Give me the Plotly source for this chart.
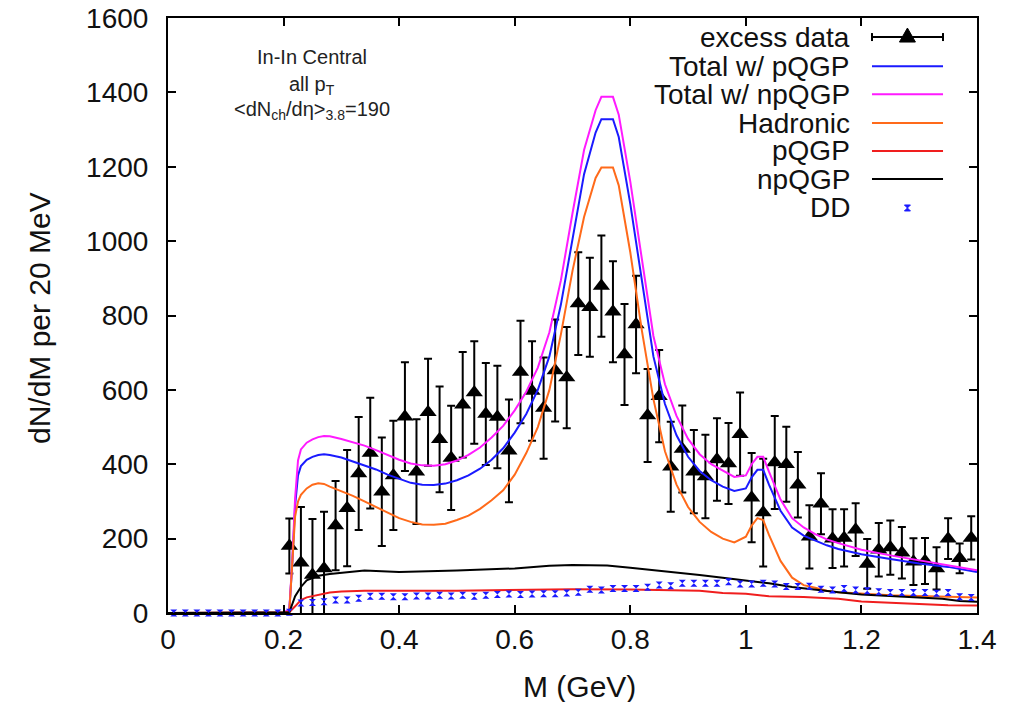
import plotly.graph_objects as go

# ---------------- data ----------------
mass_data = [0.21, 0.23, 0.25, 0.27, 0.29, 0.31, 0.33, 0.35, 0.37, 0.39,
             0.41, 0.43, 0.45, 0.47, 0.49, 0.51, 0.53, 0.55, 0.57, 0.59,
             0.61, 0.63, 0.65, 0.67, 0.69, 0.71, 0.73, 0.75, 0.77, 0.79,
             0.81, 0.83, 0.85, 0.87, 0.89, 0.91, 0.93, 0.95, 0.97, 0.99,
             1.01, 1.03, 1.05, 1.07, 1.09, 1.11, 1.13, 1.15, 1.17, 1.19,
             1.21, 1.23, 1.25, 1.27, 1.29, 1.31, 1.33, 1.35, 1.37, 1.39]
excess = [180, 135, 102, 120, 235, 282, 375, 430, 326, 370,
          528, 380, 540, 467, 417, 560, 593, 535, 527, 436,
          648, 597, 551, 652, 633, 832, 822, 879, 810, 695,
          776, 531, 583, 393, 441, 380, 367, 413, 402, 481,
          310, 270, 405, 400, 345, 205, 294, 200, 202, 224,
          132, 170, 176, 162, 138, 140, 120, 200, 147, 202]
excess_err = [74, 150, 151, 152, 120, 156, 152, 149, 146, 147,
              146, 141, 144, 142, 140, 142, 138, 137, 138, 138,
              138, 134, 136, 137, 136, 138, 133, 136, 136, 136,
              131, 125, 124, 121, 117, 112, 112, 111, 109, 112,
              120, 145, 125, 101, 88, 85, 82, 79, 77, 71,
              67, 72, 73, 69, 63, 62, 57, 55, 40, 58]

mass_curve = [0.0, 0.2, 0.21, 0.215, 0.22, 0.225, 0.23, 0.24, 0.25, 0.26, 0.27, 0.28,
              0.30, 0.32, 0.34, 0.36, 0.38, 0.40, 0.42, 0.44, 0.46, 0.48,
              0.50, 0.52, 0.54, 0.56, 0.58, 0.60, 0.62, 0.64, 0.66, 0.68,
              0.70, 0.72, 0.74, 0.75, 0.77, 0.78,
              0.80, 0.82, 0.84, 0.86, 0.88, 0.90, 0.92, 0.94, 0.96, 0.98, 1.00,
              1.01, 1.02, 1.03, 1.04,
              1.06, 1.08, 1.10, 1.12, 1.14, 1.16,
              1.20, 1.25, 1.30, 1.35, 1.40]
hadronic = [0, 0, 5, 120, 260, 300, 318, 335, 345, 349, 347, 340,
            328, 315, 300, 285, 268, 255, 245, 238, 237, 240,
            250, 262, 280, 303, 330, 372, 430, 500, 600, 750,
            920, 1065, 1170, 1198, 1198, 1150,
            970, 760, 575, 435, 345, 285, 245, 218, 200, 190, 205,
            235, 255, 250, 210,
            140, 95, 75, 68, 60, 56,
            52, 48, 46, 44, 42]
total_pqgp = [0, 0, 10, 130, 290, 370, 395, 412, 420, 425, 427, 425,
              418, 408, 398, 386, 372, 360, 350, 345, 344, 348,
              357, 370, 388, 412, 443, 485, 535, 600, 690, 830,
              1010, 1180, 1292, 1328, 1328, 1280,
              1100, 890, 690, 562, 478, 420, 382, 357, 340, 328, 335,
              365, 385, 385, 345,
              275, 230, 208, 195, 182, 172,
              158, 145, 133, 124, 110]
total_npqgp = [0, 0, 10, 140, 310, 410, 440, 458, 467, 473, 476, 475,
               468, 460, 450, 438, 424, 412, 402, 397, 396, 400,
               410, 425, 445, 472, 503, 545, 595, 660, 755, 895,
               1075, 1245, 1352, 1388, 1388, 1340,
               1160, 950, 745, 615, 530, 468, 427, 400, 382, 366, 370,
               400, 420, 420, 380,
               305, 255, 230, 212, 198, 188,
               170, 155, 142, 130, 115]

mass_np = [0.0, 0.2, 0.21, 0.22, 0.23, 0.24, 0.25, 0.26, 0.28, 0.30, 0.34,
           0.40, 0.46, 0.50, 0.60, 0.66, 0.70, 0.76, 0.80, 0.84, 0.88,
           0.92, 0.96, 1.00, 1.04, 1.08, 1.12, 1.16, 1.20, 1.25, 1.30,
           1.34, 1.37, 1.40]
npqgp = [0, 0, 2, 45, 70, 88, 95, 100, 105, 108, 114,
         110, 112, 114, 120, 127, 129, 128, 122, 116, 108,
         102, 95, 88, 80, 70, 62, 56, 50, 46, 43,
         38, 32, 30]

mass_p = [0.0, 0.2, 0.21, 0.22, 0.23, 0.24, 0.26, 0.28, 0.30, 0.34, 0.50,
          0.68, 0.70, 0.80, 0.86, 0.92, 0.96, 1.00, 1.04, 1.10, 1.16,
          1.20, 1.24, 1.30, 1.35, 1.40]
pqgp = [0, 0, 2, 18, 35, 42, 48, 55, 58, 60, 60,
        62, 64, 63, 62, 60, 54, 52, 45, 43, 38,
        31, 28, 24, 21, 20]

mass_dd = [0.01, 0.03, 0.05, 0.07, 0.09, 0.11, 0.13, 0.15, 0.17, 0.19,
           0.21, 0.23, 0.25, 0.27, 0.29, 0.31, 0.33, 0.35, 0.37, 0.39,
           0.41, 0.43, 0.45, 0.47, 0.49, 0.51, 0.53, 0.55, 0.57, 0.59,
           0.61, 0.63, 0.65, 0.67, 0.69, 0.71, 0.73, 0.75, 0.77, 0.79,
           0.81, 0.83, 0.85, 0.87, 0.89, 0.91, 0.93, 0.95, 0.97, 0.99,
           1.01, 1.03, 1.05, 1.07, 1.09, 1.11, 1.13, 1.15, 1.17, 1.19,
           1.21, 1.23, 1.25, 1.27, 1.29, 1.31, 1.33, 1.35, 1.37, 1.39]
dd = [0, 0, 0, 0, 0, 0, 0, 0, 0, 0,
      2, 27, 28, 30, 35, 35, 40, 45, 45, 44,
      44, 46, 46, 48, 46, 48, 45, 48, 50, 51,
      50, 51, 52, 52, 54, 56, 64, 62, 66, 66,
      66, 69, 75, 73, 80, 80, 80, 80, 84, 78,
      78, 80, 78, 71, 71, 72, 64, 62, 66, 62,
      60, 57, 55, 55, 55, 55, 53, 55, 44, 42]

x_ticks = [0, 0.2, 0.4, 0.6, 0.8, 1.0, 1.2, 1.4]
x_tick_text = ["0", "0.2", "0.4", "0.6", "0.8", "1", "1.2", "1.4"]
y_ticks = [0, 200, 400, 600, 800, 1000, 1200, 1400, 1600]

legend_labels = ["excess data", "Total w/ pQGP", "Total w/ npQGP", "Hadronic",
                 "pQGP", "npQGP", "DD"]

# ---------------- styling ----------------
FONT = "Liberation Sans, Arial, Helvetica, sans-serif"
C_BLUE = "#1a1aff"
C_MAG = "#ff1aff"
C_ORANGE = "#ff6a1a"
C_RED = "#f01e1e"
C_BLACK = "#000000"
C_DD = "#1a1aff"

fig = go.Figure()

fig.add_trace(go.Scatter(
    x=mass_data, y=excess, mode="markers", name="excess data",
    marker=dict(symbol="triangle-up", size=15, color="black"),
    error_y=dict(type="data", array=excess_err, visible=True,
                 color="black", thickness=2, width=4),
    cliponaxis=True))

for xs, ys, col, nm in [(mass_curve, total_pqgp, C_BLUE, "Total w/ pQGP"),
                        (mass_curve, total_npqgp, C_MAG, "Total w/ npQGP"),
                        (mass_curve, hadronic, C_ORANGE, "Hadronic"),
                        (mass_p, pqgp, C_RED, "pQGP"),
                        (mass_np, npqgp, C_BLACK, "npQGP")]:
    fig.add_trace(go.Scatter(x=xs, y=ys, mode="lines", name=nm,
                             line=dict(color=col, width=2)))

fig.add_trace(go.Scatter(
    x=mass_dd, y=dd, mode="markers", name="DD",
    marker=dict(symbol="hourglass", size=7, color=C_DD, line=dict(width=0)),
    cliponaxis=False))

# ---------------- legend (right-aligned text, samples on the right) -------
row_y = [0.968, 0.919, 0.872, 0.8235, 0.7765, 0.7294, 0.6807]
row_colors = [C_BLACK, C_BLUE, C_MAG, C_ORANGE, C_RED, C_BLACK, None]
text_x = 0.8455
line_x0, line_x1, mid_x = 0.8702, 0.958, 0.914

annotations = []
shapes = []
for lab, yy, col in zip(legend_labels, row_y, row_colors):
    annotations.append(dict(text=lab, x=text_x, y=yy, xref="paper", yref="paper",
                            xanchor="right", yanchor="middle", showarrow=False,
                            font=dict(size=28, color="#111", family=FONT)))
    if col is not None:
        shapes.append(dict(type="line", xref="paper", yref="paper",
                           x0=line_x0, x1=line_x1, y0=yy, y1=yy,
                           line=dict(color=col, width=2)))
# caps and triangle for the "excess data" sample
for cx in (line_x0, line_x1):
    shapes.append(dict(type="line", xref="paper", yref="paper",
                       ysizemode="pixel", yanchor=row_y[0], y0=-4, y1=4,
                       x0=cx, x1=cx, line=dict(color="black", width=2)))
shapes.append(dict(type="path", xref="paper", yref="paper",
                   xsizemode="pixel", ysizemode="pixel",
                   xanchor=mid_x, yanchor=row_y[0],
                   path="M -8,-5 L 8,-5 L 0,9 Z",
                   fillcolor="black", line=dict(color="black", width=1)))
# DD sample symbol
shapes.append(dict(type="path", xref="paper", yref="paper",
                   xsizemode="pixel", ysizemode="pixel",
                   xanchor=mid_x, yanchor=row_y[6],
                   path="M -3,-3 L 3,-3 L -3,3 L 3,3 Z",
                   fillcolor=C_DD, line=dict(color=C_DD, width=1)))

# info text
for txt, yy in [("In-In Central", 0.934),
                ("all p<sub>T</sub>", 0.887),
                ("&lt;dN<sub>ch</sub>/dη&gt;<sub>3.8</sub>=190", 0.8437)]:
    annotations.append(dict(text=txt, x=0.178, y=yy, xref="paper", yref="paper",
                            xanchor="center", yanchor="middle", showarrow=False,
                            font=dict(size=20, color="#222", family=FONT)))

# axis titles
annotations.append(dict(text="M (GeV)", x=0.509, y=-0.1227, xref="paper", yref="paper",
                        xanchor="center", yanchor="middle", showarrow=False,
                        font=dict(size=30, color="#111", family=FONT)))
annotations.append(dict(text="dN/dM per 20 MeV", x=-0.158, y=0.496, xref="paper",
                        yref="paper", xanchor="center", yanchor="middle",
                        textangle=-90, showarrow=False,
                        font=dict(size=30, color="#111", family=FONT)))

axis_common = dict(showline=True, linecolor="black", linewidth=2, mirror="allticks",
                   ticks="inside", ticklen=8, tickwidth=1.5, tickcolor="black",
                   showgrid=False, zeroline=False, automargin=False,
                   tickfont=dict(size=28, color="#111", family=FONT))

fig.update_layout(
    width=1009, height=702,
    margin=dict(l=168, r=32, t=18, b=89),
    paper_bgcolor="white", plot_bgcolor="white",
    showlegend=False,
    font=dict(family=FONT, color="#111"),
    xaxis=dict(range=[0, 1.4], tickvals=x_ticks, ticktext=x_tick_text,
               ticklabelstandoff=0, **axis_common),
    yaxis=dict(range=[0, 1600], tickvals=y_ticks, ticklabelstandoff=12,
               **axis_common),
    annotations=annotations,
    shapes=shapes,
)

fig.write_html("out.html",
               config={"displayModeBar": False},
               post_script="document.body.style.margin='0';"
                           "document.body.style.overflow='hidden';")
